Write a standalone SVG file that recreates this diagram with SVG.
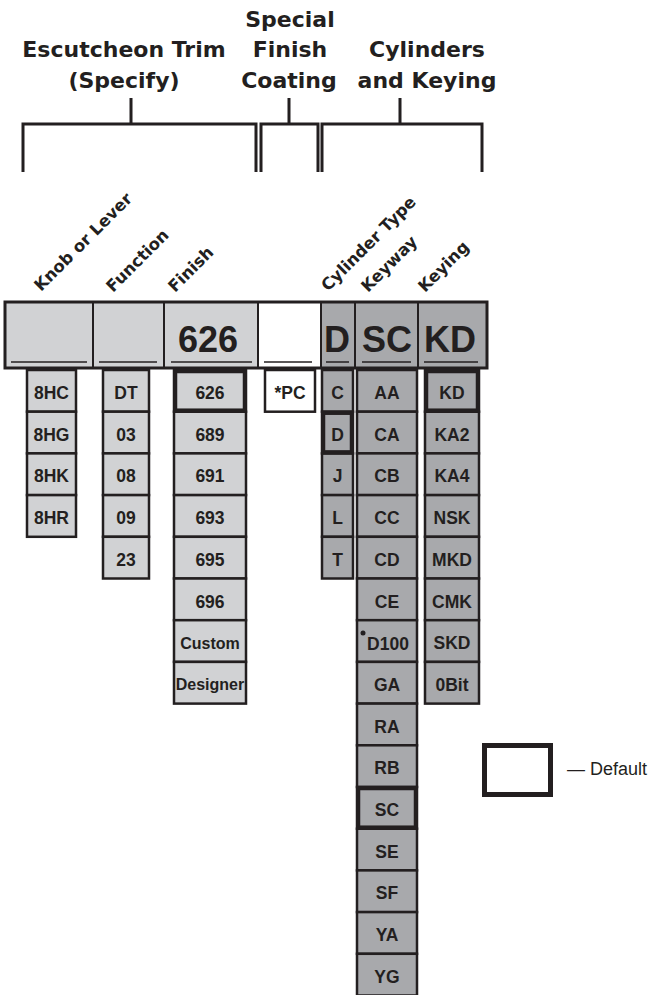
<svg xmlns="http://www.w3.org/2000/svg" width="652" height="995" viewBox="0 0 652 995">
<style>
.title{font-family:"DejaVu Sans",sans-serif;font-weight:bold;font-size:22px;fill:#231f20;text-anchor:middle}
.rot{font-family:"DejaVu Sans",sans-serif;font-weight:bold;font-size:16.5px;fill:#231f20}
.br{fill:none;stroke:#231f20;stroke-width:3}
.lg{fill:#d1d2d4}
.dg{fill:#a8a9ac}
.wh{fill:#ffffff}
.cell{stroke:#231f20;stroke-width:2.5}
.def{stroke:#231f20;stroke-width:4.5}
.lbl{font-family:"Liberation Sans",Arial,sans-serif;font-weight:bold;font-size:17.5px;fill:#231f20;text-anchor:middle}
.sm{font-size:16px}
.big{font-family:"Liberation Sans",Arial,sans-serif;font-weight:bold;font-size:36px;fill:#231f20;text-anchor:middle}
.ul{stroke:#231f20;stroke-width:1.5}
.div{stroke:#231f20;stroke-width:2}
</style>

<g id="titles">
<text class="title" x="124" y="57">Escutcheon Trim</text>
<text class="title" x="124" y="88">(Specify)</text>
<text class="title" x="290" y="27">Special</text>
<text class="title" x="290" y="57">Finish</text>
<text class="title" x="289" y="88">Coating</text>
<text class="title" x="427" y="57">Cylinders</text>
<text class="title" x="427" y="88">and Keying</text>
</g>

<g id="connectors">
<path class="br" d="M23,172 V124 H256 V172 M131,124 V98"/>
<path class="br" d="M261,172 V124 H318 V172 M289,124 V98"/>
<path class="br" d="M322,172 V124 H482 V172 M400,124 V98"/>
</g>

<g id="column-labels">
<text class="rot" transform="translate(41,292) rotate(-45)">Knob or Lever</text>
<text class="rot" transform="translate(113,293) rotate(-45)">Function</text>
<text class="rot" transform="translate(175,293) rotate(-45)">Finish</text>
<text class="rot" transform="translate(328,292) rotate(-45)">Cylinder Type</text>
<text class="rot" transform="translate(368,293) rotate(-45)">Keyway</text>
<text class="rot" transform="translate(425,293) rotate(-45)">Keying</text>
</g>

<g id="bar">
<rect class="lg" x="5" y="302" width="253" height="66"/>
<rect class="wh" x="258" y="302" width="63" height="66"/>
<rect class="dg" x="321" y="302" width="166" height="66"/>
<line class="div" x1="93" y1="302" x2="93" y2="368"/>
<line class="div" x1="164" y1="302" x2="164" y2="368"/>
<line class="div" x1="258" y1="302" x2="258" y2="368"/>
<line class="div" x1="321" y1="302" x2="321" y2="368"/>
<line class="div" x1="355" y1="302" x2="355" y2="368"/>
<line class="div" x1="418" y1="302" x2="418" y2="368"/>
<rect x="5" y="302" width="482" height="66" fill="none" stroke="#231f20" stroke-width="3"/>
<line class="ul" x1="11" y1="362" x2="87" y2="362"/>
<line class="ul" x1="99" y1="362" x2="157" y2="362"/>
<line class="ul" x1="171" y1="362" x2="252" y2="362"/>
<line class="ul" x1="264" y1="362" x2="312" y2="362"/>
<line class="ul" x1="326" y1="362" x2="349" y2="362"/>
<line class="ul" x1="362" y1="362" x2="411" y2="362"/>
<line class="ul" x1="424" y1="362" x2="478" y2="362"/>
<text class="big" x="208" y="352">626</text>
<text class="big" x="337" y="352">D</text>
<text class="big" x="387" y="352">SC</text>
<text class="big" x="450" y="352">KD</text>
</g>

<g id="knob-or-lever">
<rect class="lg cell" x="27" y="370" width="49" height="41.7"/>
<rect class="lg cell" x="27" y="411.7" width="49" height="41.7"/>
<rect class="lg cell" x="27" y="453.4" width="49" height="41.7"/>
<rect class="lg cell" x="27" y="495.1" width="49" height="41.7"/>
<text class="lbl" x="51.5" y="399">8HC</text>
<text class="lbl" x="51.5" y="440.7">8HG</text>
<text class="lbl" x="51.5" y="482.4">8HK</text>
<text class="lbl" x="51.5" y="524.1">8HR</text>
</g>

<g id="function">
<rect class="lg cell" x="103" y="370" width="46" height="41.7"/>
<rect class="lg cell" x="103" y="411.7" width="46" height="41.7"/>
<rect class="lg cell" x="103" y="453.4" width="46" height="41.7"/>
<rect class="lg cell" x="103" y="495.1" width="46" height="41.7"/>
<rect class="lg cell" x="103" y="536.8" width="46" height="41.7"/>
<text class="lbl" x="126" y="399">DT</text>
<text class="lbl" x="126" y="440.7">03</text>
<text class="lbl" x="126" y="482.4">08</text>
<text class="lbl" x="126" y="524.1">09</text>
<text class="lbl" x="126" y="565.8">23</text>
</g>

<g id="finish">
<rect class="lg cell" x="174" y="411.7" width="72" height="41.7"/>
<rect class="lg cell" x="174" y="453.4" width="72" height="41.7"/>
<rect class="lg cell" x="174" y="495.1" width="72" height="41.7"/>
<rect class="lg cell" x="174" y="536.8" width="72" height="41.7"/>
<rect class="lg cell" x="174" y="578.5" width="72" height="41.7"/>
<rect class="lg cell" x="174" y="620.2" width="72" height="41.7"/>
<rect class="lg cell" x="174" y="661.9" width="72" height="41.7"/>
<rect class="lg def" x="175" y="371" width="70" height="39.7"/>
<text class="lbl" x="210" y="399">626</text>
<text class="lbl" x="210" y="440.7">689</text>
<text class="lbl" x="210" y="482.4">691</text>
<text class="lbl" x="210" y="524.1">693</text>
<text class="lbl" x="210" y="565.8">695</text>
<text class="lbl" x="210" y="607.5">696</text>
<text class="lbl sm" x="210" y="648.7">Custom</text>
<text class="lbl sm" x="210" y="690.4">Designer</text>
</g>

<g id="special-finish">
<rect class="wh cell" x="265" y="370" width="50" height="41.7"/>
<text class="lbl" x="290" y="399">*PC</text>
</g>

<g id="cylinder-type">
<rect class="dg cell" x="322" y="370" width="31" height="41.7"/>
<rect class="dg cell" x="322" y="453.4" width="31" height="41.7"/>
<rect class="dg cell" x="322" y="495.1" width="31" height="41.7"/>
<rect class="dg cell" x="322" y="536.8" width="31" height="41.7"/>
<rect class="dg def" x="323" y="412.7" width="29" height="39.7"/>
<text class="lbl" x="337.5" y="399">C</text>
<text class="lbl" x="337.5" y="440.7">D</text>
<text class="lbl" x="337.5" y="482.4">J</text>
<text class="lbl" x="337.5" y="524.1">L</text>
<text class="lbl" x="337.5" y="565.8">T</text>
</g>

<g id="keyway">
<rect class="dg cell" x="357" y="370" width="60" height="41.7"/>
<rect class="dg cell" x="357" y="411.7" width="60" height="41.7"/>
<rect class="dg cell" x="357" y="453.4" width="60" height="41.7"/>
<rect class="dg cell" x="357" y="495.1" width="60" height="41.7"/>
<rect class="dg cell" x="357" y="536.8" width="60" height="41.7"/>
<rect class="dg cell" x="357" y="578.5" width="60" height="41.7"/>
<rect class="dg cell" x="357" y="620.2" width="60" height="41.7"/>
<rect class="dg cell" x="357" y="661.9" width="60" height="41.7"/>
<rect class="dg cell" x="357" y="703.6" width="60" height="41.7"/>
<rect class="dg cell" x="357" y="745.3" width="60" height="41.7"/>
<rect class="dg cell" x="357" y="828.7" width="60" height="41.7"/>
<rect class="dg cell" x="357" y="870.4" width="60" height="41.7"/>
<rect class="dg cell" x="357" y="912.1" width="60" height="41.7"/>
<rect class="dg cell" x="357" y="953.8" width="60" height="41.7"/>
<rect class="dg def" x="358" y="788" width="58" height="39.7"/>
<text class="lbl" x="387" y="399">AA</text>
<text class="lbl" x="387" y="440.7">CA</text>
<text class="lbl" x="387" y="482.4">CB</text>
<text class="lbl" x="387" y="524.1">CC</text>
<text class="lbl" x="387" y="565.8">CD</text>
<text class="lbl" x="387" y="607.5">CE</text>
<circle cx="363" cy="633" r="2.5" fill="#231f20"/>
<text class="lbl" x="388" y="650">D100</text>
<text class="lbl" x="387" y="690.9">GA</text>
<text class="lbl" x="387" y="732.6">RA</text>
<text class="lbl" x="387" y="774.3">RB</text>
<text class="lbl" x="387" y="816">SC</text>
<text class="lbl" x="387" y="857.7">SE</text>
<text class="lbl" x="387" y="899.4">SF</text>
<text class="lbl" x="387" y="941.1">YA</text>
<text class="lbl" x="387" y="982.8">YG</text>
</g>

<g id="keying">
<rect class="dg cell" x="425" y="411.7" width="54" height="41.7"/>
<rect class="dg cell" x="425" y="453.4" width="54" height="41.7"/>
<rect class="dg cell" x="425" y="495.1" width="54" height="41.7"/>
<rect class="dg cell" x="425" y="536.8" width="54" height="41.7"/>
<rect class="dg cell" x="425" y="578.5" width="54" height="41.7"/>
<rect class="dg cell" x="425" y="620.2" width="54" height="41.7"/>
<rect class="dg cell" x="425" y="661.9" width="54" height="41.7"/>
<rect class="dg def" x="426" y="371" width="52" height="39.7"/>
<text class="lbl" x="452" y="399">KD</text>
<text class="lbl" x="452" y="440.7">KA2</text>
<text class="lbl" x="452" y="482.4">KA4</text>
<text class="lbl" x="452" y="524.1">NSK</text>
<text class="lbl" x="452" y="565.8">MKD</text>
<text class="lbl" x="452" y="607.5">CMK</text>
<text class="lbl" x="452" y="649.2">SKD</text>
<text class="lbl" x="452" y="690.9">0Bit</text>
</g>

<g id="legend">
<rect x="484.5" y="745.5" width="66" height="49" fill="#ffffff" stroke="#231f20" stroke-width="5"/>
<text x="567" y="775" font-family="Liberation Sans, Arial, sans-serif" font-size="18" fill="#231f20">— Default</text>
</g>
</svg>
